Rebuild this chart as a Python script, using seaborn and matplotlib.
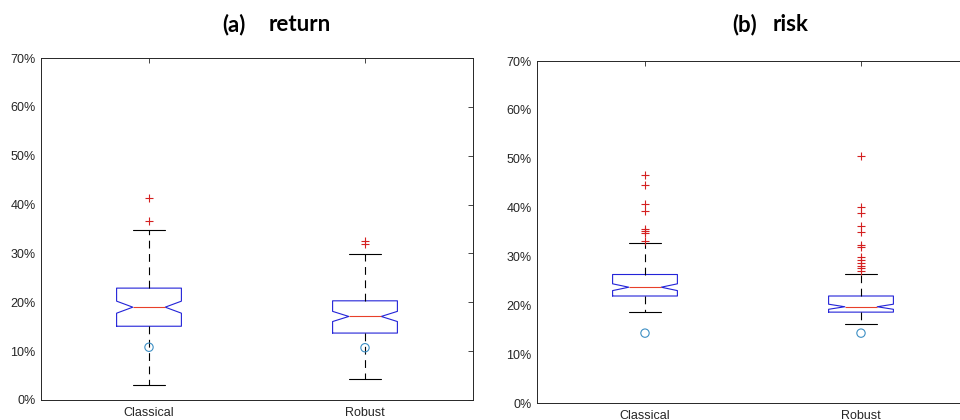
import numpy as np
import pandas as pd
import matplotlib
matplotlib.use("Agg")
import matplotlib.pyplot as plt
import seaborn as sns
from matplotlib.ticker import FuncFormatter

# ---------------- data (values in %) ----------------
categories = ["Classical", "Robust"]

# (a) return
return_whisker_low = [3.0, 4.4]
return_q1 = [15.1, 13.7]
return_median = [19.0, 17.1]
return_q3 = [22.9, 20.3]
return_whisker_high = [34.7, 29.9]
return_outliers = [[36.7, 41.3], [32.0, 32.6]]
return_reference = [10.8, 10.7]

# (b) risk
risk_whisker_low = [18.6, 16.2]
risk_q1 = [21.9, 18.6]
risk_median = [23.7, 19.7]
risk_q3 = [26.3, 21.9]
risk_whisker_high = [32.8, 26.5]
risk_outliers = [[33.1, 34.8, 35.2, 35.6, 39.2, 40.7, 44.6, 46.7],
                 [27.1, 27.6, 28.0, 28.6, 29.3, 29.9, 31.9, 32.3,
                  34.9, 36.3, 38.9, 40.2, 50.6]]
risk_reference = [14.3, 14.3]

y_ticks = [0, 10, 20, 30, 40, 50, 60, 70]
n_runs = 100  # runs per method (sets notch width)


def build_frame(low, q1, med, q3, high, outliers):
    """Rebuild a sample of n_runs values whose quartiles/whiskers are the read ones."""
    parts = []
    for cat, lo, a, m, b, hi, out in zip(categories, low, q1, med, q3, high, outliers):
        counts = [1, 40, 24, n_runs - 67 - len(out), 1]
        vals = np.concatenate([np.repeat([lo, a, m, b, hi], counts), out])
        parts.append(pd.DataFrame({"method": cat, "value": vals}))
    return pd.concat(parts, ignore_index=True)


return_df = build_frame(return_whisker_low, return_q1, return_median, return_q3,
                        return_whisker_high, return_outliers)
risk_df = build_frame(risk_whisker_low, risk_q1, risk_median, risk_q3,
                      risk_whisker_high, risk_outliers)

# ---------------- style ----------------
sns.set_style("white")
plt.rcParams["font.family"] = ["Liberation Sans", "DejaVu Sans"]

AX_COLOR = "#262626"
BOX_COLOR = "#2323d8"
MED_COLOR = "#e8402a"
FLIER_COLOR = "#d42020"
REF_COLOR = "#3d8fc4"

fig = plt.figure(figsize=(9.6, 4.2), dpi=100)
ax1 = fig.add_axes([41 / 960, 1 - 400 / 420, 432 / 960, 342 / 420])
ax2 = fig.add_axes([537 / 960, 1 - 403 / 420, 432 / 960, 342 / 420])


def draw(ax, df, ref, whis):
    sns.boxplot(
        data=df, x="method", y="value", order=categories, ax=ax,
        fill=False, width=0.3, whis=whis, shownotches=True,
        boxprops=dict(color=BOX_COLOR, linewidth=0.8),
        medianprops=dict(color=MED_COLOR, linewidth=0.8),
        whiskerprops=dict(color="black", linewidth=0.8, linestyle=(0, (7, 5))),
        capprops=dict(color="black", linewidth=0.8),
        flierprops=dict(marker="+", markeredgecolor=FLIER_COLOR,
                        markerfacecolor="none", markersize=6,
                        markeredgewidth=0.8, linestyle="none"),
    )
    sns.scatterplot(x=categories, y=ref, ax=ax, marker="o", s=36,
                    facecolor="none", edgecolor=REF_COLOR, linewidth=0.8,
                    zorder=3, legend=False)
    ax.set_xlim(-0.5, 1.5)
    ax.set_ylim(0, 70)
    ax.set_yticks(y_ticks)
    ax.yaxis.set_major_formatter(FuncFormatter(lambda v, p: f"{v:.0f}%"))
    ax.set_xlabel("")
    ax.set_ylabel("")
    for s in ax.spines.values():
        s.set_visible(True)
        s.set_color(AX_COLOR)
        s.set_linewidth(0.7)
    ax.tick_params(direction="in", length=3.5, width=0.6, top=True, right=True,
                   color=AX_COLOR, labelcolor=AX_COLOR, labelsize=9)
    ax.tick_params(axis="x", pad=5)
    ax.tick_params(axis="y", pad=4)


draw(ax1, return_df, return_reference, 1.6)
draw(ax2, risk_df, risk_reference, 1.5)

title_kw = dict(fontsize=16, fontweight="bold", family=["Lato", "DejaVu Sans"],
                ha="left", va="baseline", color="black")
fig.text(222 / 960, 1 - 31 / 420, "(a)", **title_kw)
fig.text(269 / 960, 1 - 31 / 420, "return", **title_kw)
fig.text(732 / 960, 1 - 31 / 420, "(b)", **title_kw)
fig.text(773 / 960, 1 - 31 / 420, "risk", **title_kw)

fig.savefig("out.png", dpi=100)
